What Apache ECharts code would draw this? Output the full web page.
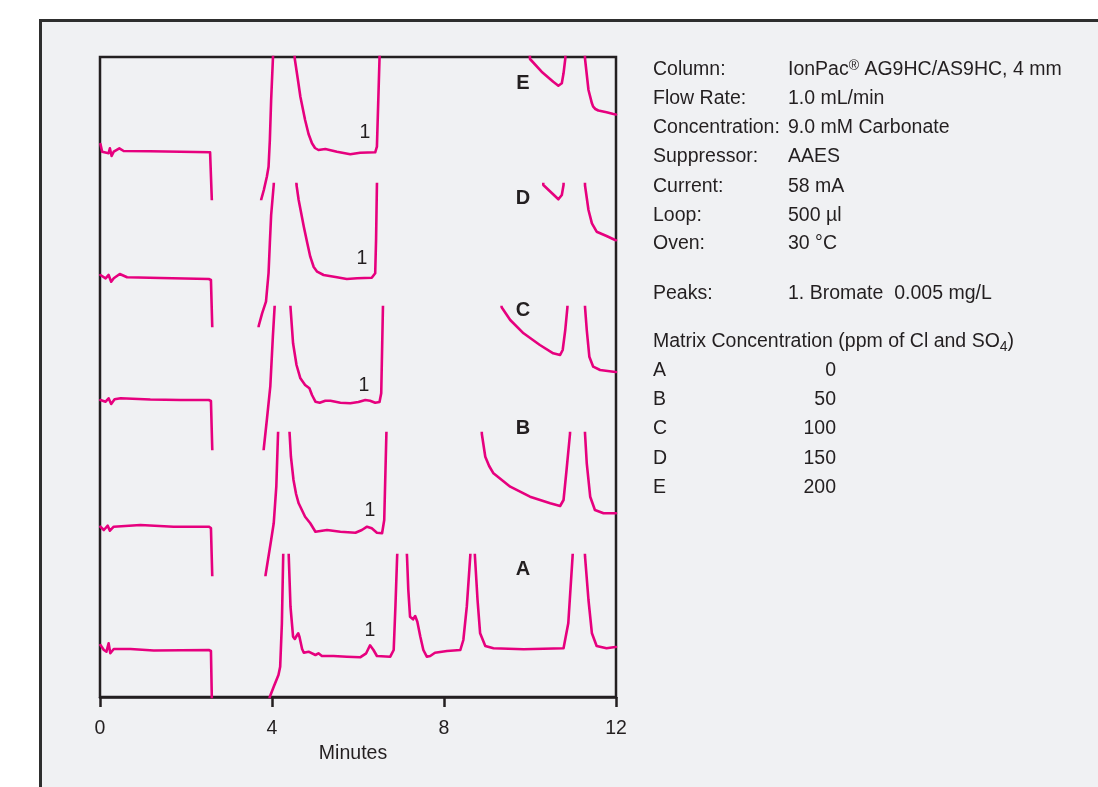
<!DOCTYPE html>
<html><head><meta charset="utf-8">
<script src="https://cdn.jsdelivr.net/npm/echarts@6/dist/echarts.min.js"></script>
<style>html,body{margin:0;padding:0;background:#fff}#c{width:1098px;height:787px}</style>
</head><body><div id="c"></div><script>
// ---------- data ----------
const xTicks = [0, 4, 8, 12];
const traceNames = ['E', 'D', 'C', 'B', 'A'];   // top to bottom
const matrixConc = [0, 50, 100, 150, 200];       // ppm, for A..E
const condLabels = ['Column:', 'Flow Rate:', 'Concentration:', 'Suppressor:', 'Current:', 'Loop:', 'Oven:'];
const condValues = ['IonPac{r|®} AG9HC/AS9HC, 4 mm', '1.0 mL/min', '9.0 mM Carbonate', 'AAES', '58 mA', '500 µl', '30 °C'];
const peakText = '1. Bromate  0.005 mg/L';

// signal (arbitrary units) vs minutes; off-scale maxima are estimates
const traceE = [
[0.01,0.7],[0.05,-0.07],[0.20,-0.23],[0.23,0.27],[0.27,-0.5],[0.32,-0.07],[0.45,0.27],[0.55,0.0],[1.17,-0.03],[1.87,-0.07],[2.56,-0.13],[2.58,-0.2],[2.60,-4.83],[2.62,-6],
[3.73,-6],[3.75,-4.83],[3.81,-3.9],[3.88,-2.57],[3.92,-1.57],[3.95,1.1],[3.98,5.1],[4.02,9.1],[4.04,11],[4.25,40],[4.51,11],
[4.53,9.2],[4.60,7.2],[4.66,5.43],[4.77,3.1],[4.85,1.7],[4.93,0.77],[5.00,0.3],[5.08,0.1],[5.24,0.2],[5.51,-0.07],[5.82,-0.33],[6.05,-0.17],[6.40,-0.13],[6.44,0.43],[6.50,9.2],[6.52,12],[8.2,30],[9.98,12],
[10.00,9.2],[10.27,7.93],[10.54,6.93],[10.66,6.53],[10.74,6.77],[10.78,7.77],[10.82,9.2],[10.84,12],[11.05,40],[11.26,12],
[11.28,9.2],[11.36,6.1],[11.44,4.77],[11.47,4.43],[11.52,4.2],[11.59,4.05],[11.78,3.87],[11.94,3.7],[12.0,3.65]
];
const traceD = [
[0.01,0.3],[0.13,-0.03],[0.20,0.3],[0.26,-0.37],[0.32,-0.03],[0.46,0.4],[0.63,0.07],[1.41,0],[2.53,-0.1],[2.58,-0.2],[2.61,-4.8],[2.62,-6],
[3.68,-6],[3.69,-4.8],[3.77,-3.53],[3.86,-2.37],[3.92,0.5],[3.95,3.5],[3.98,6.3],[4.04,9.3],[4.06,11],[4.30,40],[4.55,11],
[4.57,9.3],[4.62,7.8],[4.74,5.13],[4.82,3.5],[4.89,2.13],[4.97,1.1],[5.05,0.63],[5.20,0.3],[5.51,0.07],[5.74,-0.1],[5.98,-0.03],[6.32,0.03],[6.40,0.47],[6.42,3.8],[6.44,9.3],[6.46,12],[8.4,30],[10.29,12],
[10.31,9.3],[10.66,7.87],[10.74,8.3],[10.78,9.3],[10.80,12],[11.05,40],[11.26,12],
[11.28,9.23],[11.36,6.8],[11.44,5.47],[11.55,4.63],[11.78,4.2],[11.98,3.8],[12.0,3.78]
];
const traceC = [
[0.01,0.1],[0.13,-0.07],[0.20,0.27],[0.26,-0.3],[0.34,0.17],[0.48,0.27],[1.17,0.15],[1.87,0.1],[2.53,0.1],[2.58,0],[2.61,-4.7],[2.62,-6],
[3.78,-6],[3.81,-4.7],[3.88,-1.9],[3.96,1.43],[4.02,6.43],[4.06,9.37],[4.08,11],[4.25,40],[4.41,11],
[4.43,9.37],[4.49,5.77],[4.57,3.6],[4.66,2.27],[4.77,1.6],[4.87,1.27],[4.93,0.6],[5.01,-0.07],[5.11,-0.17],[5.24,0.03],[5.36,0.03],[5.59,-0.17],[5.82,-0.23],[6.01,-0.1],[6.17,0.1],[6.28,0.03],[6.40,-0.17],[6.50,-0.1],[6.54,0.77],[6.58,9.37],[6.60,12],[8,30],[9.32,12],
[9.34,9.37],[9.54,8.1],[9.85,6.77],[10.23,5.6],[10.54,4.77],[10.70,4.6],[10.76,5.1],[10.82,7.1],[10.87,9.37],[10.89,12],[11.08,40],[11.26,12],
[11.28,9.37],[11.32,7.1],[11.38,4.43],[11.47,3.43],[11.63,3.1],[11.94,2.93],[12.0,2.9]
];
const traceB = [
[0.01,0.03],[0.09,-0.3],[0.18,0.13],[0.23,-0.37],[0.32,0.03],[0.94,0.2],[1.71,0.03],[2.53,0.03],[2.58,-0.1],[2.61,-4.8],[2.62,-6],
[3.83,-6],[3.85,-4.8],[3.98,-1.3],[4.04,0.37],[4.10,4.03],[4.14,9.3],[4.16,11],[4.28,40],[4.39,11],
[4.41,9.3],[4.44,7.03],[4.50,4.7],[4.56,3.3],[4.62,2.37],[4.77,1.03],[4.89,0.37],[5.01,-0.47],[5.28,-0.3],[5.59,-0.47],[5.94,-0.57],[6.09,-0.3],[6.21,0.03],[6.32,-0.13],[6.44,-0.57],[6.56,-0.63],[6.61,0.7],[6.66,9.3],[6.68,12],[7.8,30],[8.86,12],
[8.88,9.3],[8.96,7.03],[9.05,6.1],[9.15,5.37],[9.54,4.03],[10.00,3.03],[10.47,2.37],[10.70,2.1],[10.78,2.7],[10.85,5.7],[10.93,9.3],[10.95,12],[11.1,40],[11.26,12],
[11.28,9.3],[11.32,6.37],[11.40,3.03],[11.51,1.7],[11.71,1.37],[11.94,1.37],[12.0,1.37]
];
const traceA = [
[0.01,0.4],[0.09,-0.1],[0.15,-0.27],[0.20,0.57],[0.24,-0.43],[0.32,0],[0.71,0],[1.25,-0.15],[2.53,-0.1],[2.58,-0.2],[2.60,-4.8],[2.61,-6],
[3.90,-6],[3.95,-4.77],[4.04,-3.77],[4.15,-2.6],[4.19,-1.77],[4.23,2.57],[4.26,9.23],[4.27,11],[4.33,40],[4.38,11],
[4.39,9.23],[4.43,4.23],[4.49,1.23],[4.53,1.0],[4.57,1.3],[4.61,1.57],[4.64,1.2],[4.70,0],[4.74,-0.37],[4.85,-0.27],[5.01,-0.6],[5.08,-0.43],[5.16,-0.7],[5.43,-0.7],[5.74,-0.77],[6.05,-0.83],[6.19,-0.43],[6.28,0.37],[6.36,-0.1],[6.44,-0.7],[6.75,-0.77],[6.83,-0.1],[6.87,4.23],[6.91,9.23],[6.93,11],[7.03,40],[7.12,11],
[7.14,9.23],[7.17,5.9],[7.21,3.23],[7.28,2.97],[7.33,3.3],[7.38,2.73],[7.45,1.23],[7.52,-0.1],[7.60,-0.77],[7.68,-0.7],[7.79,-0.37],[8.07,-0.2],[8.38,-0.1],[8.45,0.9],[8.53,4.23],[8.61,9.23],[8.63,11],[8.67,40],[8.70,11],
[8.72,9.23],[8.78,4.9],[8.84,1.57],[8.96,0.3],[9.15,0.07],[9.85,-0.03],[10.78,0.07],[10.89,2.57],[10.99,9.23],[11.01,11],[11.15,40],[11.26,11],
[11.28,9.23],[11.36,4.9],[11.44,1.57],[11.55,0.3],[11.78,0.07],[11.94,0.17],[12.0,0.2]
];
const traces = [traceE, traceD, traceC, traceB, traceA];

// ---------- layout / style ----------
const FONT = '"Liberation Sans","Arimo",Arial,sans-serif';
const FS = 19.5;
const INK = '#231f20';
const PINK = '#e6007e';
const PLOT_L = 100, PLOT_W = 516, PLOT_T = 57, PLOT_H = 640;
const bandTops = [57, 184, 307, 433, 555];
const BAND_H = 142;

const grids = [{left: PLOT_L, top: PLOT_T, width: PLOT_W, height: PLOT_H, show: true,
  borderColor: INK, borderWidth: 2.5, backgroundColor: 'transparent'}];
const xAxes = [{gridIndex: 0, type: 'value', min: xTicks[0], max: xTicks[xTicks.length - 1], interval: 4,
  axisLine: {lineStyle: {color: INK, width: 2.5}}, axisTick: {length: 10, lineStyle: {color: INK, width: 2.5}},
  splitLine: {show: false},
  axisLabel: {fontFamily: FONT, fontSize: FS, color: INK, margin: 22},
  name: 'Minutes', nameLocation: 'middle', nameGap: 42,
  nameTextStyle: {fontFamily: FONT, fontSize: FS, color: INK, padding: [0, 10, 0, 0]}}];
const yAxes = [{gridIndex: 0, type: 'value', min: 0, max: 1, show: false}];
const series = [];
bandTops.forEach((t, i) => {
  grids.push({left: PLOT_L, top: t, width: PLOT_W, height: BAND_H, show: false});
  xAxes.push({gridIndex: i + 1, type: 'value', min: 0, max: 12, show: false});
  yAxes.push({gridIndex: i + 1, type: 'value', min: -4.8, max: 9.4, show: false});
  series.push({type: 'line', name: traceNames[i], xAxisIndex: i + 1, yAxisIndex: i + 1,
    data: traces[i], showSymbol: false, symbol: 'none', clip: true, smooth: false,
    lineStyle: {color: PINK, width: 2.6, join: 'round', cap: 'round'}, silent: true, animation: false});
});

const graphic = [];
graphic.push({type: 'rect', z: -10, silent: true, shape: {x: 40.5, y: 20.5, width: 1120, height: 800},
  style: {fill: '#f0f1f3', stroke: '#2e2e2e', lineWidth: 3}});
function txt(x, y, text, extra) {
  graphic.push(Object.assign({type: 'text', x: x, y: y, silent: true, z: 10,
    style: Object.assign({text: text, fill: INK, font: FS + 'px ' + FONT, textAlign: 'left', textVerticalAlign: 'middle'}, extra || {})}));
}
// trace letters
const letterY = [83, 198, 310, 428, 569];
traceNames.forEach((n, i) => txt(523, letterY[i], n, {font: 'bold 20px ' + FONT, textAlign: 'center'}));
// peak 1 labels
const peakLabelXY = [[365, 133], [362, 259], [364, 386], [370, 511], [370, 631]];
peakLabelXY.forEach(p => txt(p[0], p[1], '1', {textAlign: 'center'}));
// conditions
const rowY = [70, 99, 128, 157, 187, 216, 244];
condLabels.forEach((l, i) => {
  txt(653, rowY[i], l);
  txt(788, rowY[i], condValues[i], {rich: {r: {font: '14px ' + FONT, fill: INK, verticalAlign: 'top', padding: [0, 0, 8, 0]}}});
});
txt(653, 294, 'Peaks:');
txt(788, 294, peakText);
txt(653, 342, 'Matrix Concentration (ppm of Cl and SO{s|4})',
  {rich: {s: {font: '14px ' + FONT, fill: INK, verticalAlign: 'bottom', padding: [10, 0, 0, 0]}}});
const matY = [371, 400, 429, 459, 488];
['A', 'B', 'C', 'D', 'E'].forEach((n, i) => {
  txt(653, matY[i], n);
  txt(836, matY[i], String(matrixConc[i]), {textAlign: 'right'});
});

const chart = echarts.init(document.getElementById('c'), null, {renderer: 'canvas'});
chart.setOption({
  backgroundColor: '#ffffff', animation: false,
  grid: grids, xAxis: xAxes, yAxis: yAxes, series: series, graphic: graphic
});
</script></body></html>
